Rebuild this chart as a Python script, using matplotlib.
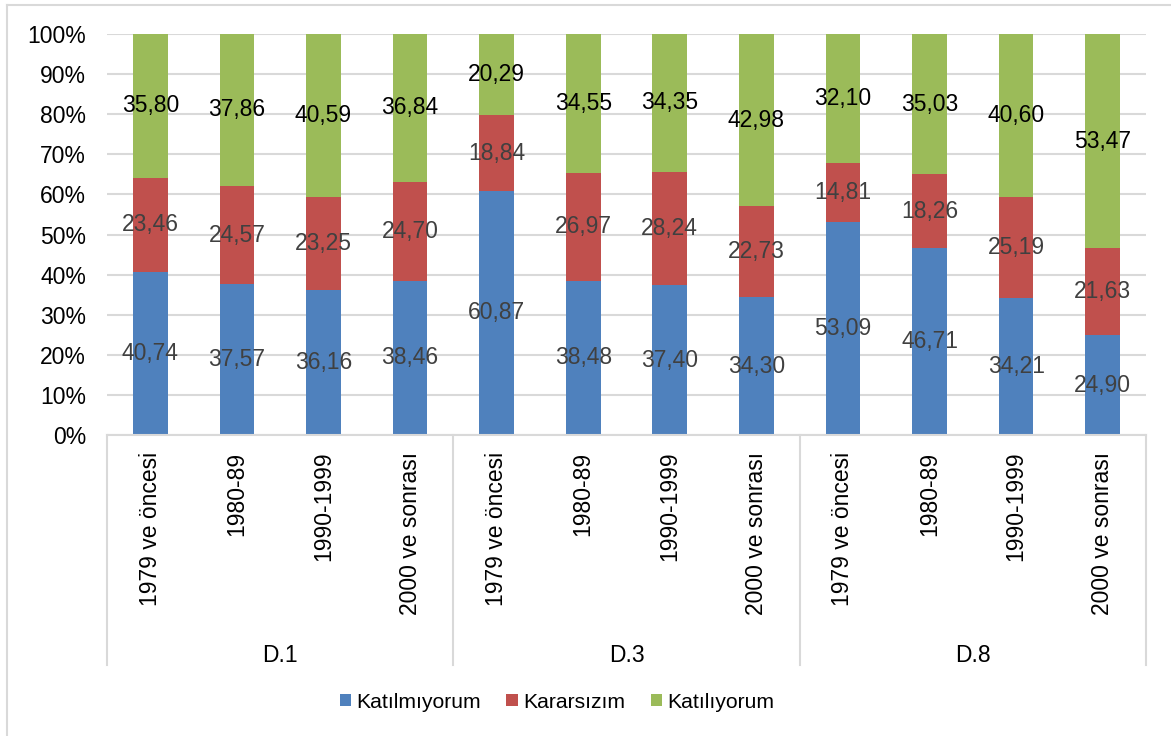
import matplotlib
matplotlib.use("Agg")
import matplotlib.pyplot as plt
from matplotlib.lines import Line2D
from matplotlib.patches import Patch
import matplotlib.transforms as mtransforms

plt.rcParams['font.family'] = ['Liberation Sans', 'DejaVu Sans']

groups = ["D.1", "D.3", "D.8"]
periods = ["1979 ve öncesi", "1980-89", "1990-1999", "2000 ve sonrası"]
series_names = ["Katılmıyorum", "Kararsızım", "Katılıyorum"]
katilmiyorum = [40.74, 37.57, 36.16, 38.46, 60.87, 38.48, 37.40, 34.30, 53.09, 46.71, 34.21, 24.90]
kararsizim = [23.46, 24.57, 23.25, 24.70, 18.84, 26.97, 28.24, 22.73, 14.81, 18.26, 25.19, 21.63]
katiliyorum = [35.80, 37.86, 40.59, 36.84, 20.29, 34.55, 34.35, 42.98, 32.10, 35.03, 40.60, 53.47]
yticks = [0, 10, 20, 30, 40, 50, 60, 70, 80, 90, 100]

colors = ["#4F81BD", "#C0504D", "#9BBB59"]
label_colors = ["#404040", "#404040", "#000000"]
FS = 16.5

W, H = 1171, 736
fig = plt.figure(figsize=(W / 100, H / 100), dpi=100)
ax = fig.add_axes([107 / W, (H - 435) / H, (1146 - 107) / W, 401 / H])

n = len(katilmiyorum)
x = list(range(n))
data = [katilmiyorum, kararsizim, katiliyorum]
bottoms = [0.0] * n
for vals, c, lc in zip(data, colors, label_colors):
    tot = [a + b + cc for a, b, cc in zip(katilmiyorum, kararsizim, katiliyorum)]
    pct = [v / t * 100 for v, t in zip(vals, tot)]
    ax.bar(x, pct, bottom=bottoms, width=0.4, color=c, edgecolor='none', zorder=2)
    for xi, p, b, v in zip(x, pct, bottoms, vals):
        ax.text(xi, b + p / 2, f"{v:.2f}".replace('.', ','), ha='center', va='center',
                fontsize=FS, color=lc, zorder=3)
    bottoms = [b + p for b, p in zip(bottoms, pct)]

ax.set_xlim(-0.5, n - 0.5)
ax.set_ylim(0, 100)
ax.set_yticks(yticks)
ax.set_yticklabels([f"{t}%" for t in yticks], fontsize=FS)
ax.grid(axis='y', color='#d9d9d9', linewidth=1.5, zorder=0)
ax.set_axisbelow(True)
for s in ['left', 'right', 'top']:
    ax.spines[s].set_visible(False)
ax.spines['bottom'].set_color('#d9d9d9')
ax.spines['bottom'].set_linewidth(1.5)
ax.tick_params(axis='y', length=0, pad=15)
ax.set_xticks(x)
ax.set_xticklabels(periods * len(groups), rotation=90, fontsize=FS, va='top')
ax.tick_params(axis='x', length=0, pad=12)

trans = mtransforms.blended_transform_factory(ax.transData, ax.transAxes)
sep_y = (435 - 665) / 401
for k in range(len(groups) + 1):
    xs = -0.5 + 4 * k
    ax.add_line(Line2D([xs, xs], [0, sep_y], transform=trans, color='#d9d9d9',
                       linewidth=1.5, clip_on=False))
grp_y = (435 - 655) / 401
for k, g in enumerate(groups):
    ax.text(1.5 + 4 * k, grp_y, g, transform=trans, ha='center', va='center', fontsize=FS)

handles = [Patch(facecolor=c, edgecolor='none') for c in colors]
fig.legend(handles, series_names, loc='center', bbox_to_anchor=(557 / W, 1 - 702 / H),
           ncol=3, frameon=False, fontsize=15.2, handlelength=0.55, handleheight=0.55,
           handletextpad=0.25, columnspacing=1.2)

fig.add_artist(Line2D([7 / W, 7 / W], [0, 1 - 5 / H], color='#d9d9d9', linewidth=1.5))
fig.add_artist(Line2D([7 / W, 1], [1 - 5 / H, 1 - 5 / H], color='#d9d9d9', linewidth=1.5))

fig.savefig("out.png", dpi=100)
